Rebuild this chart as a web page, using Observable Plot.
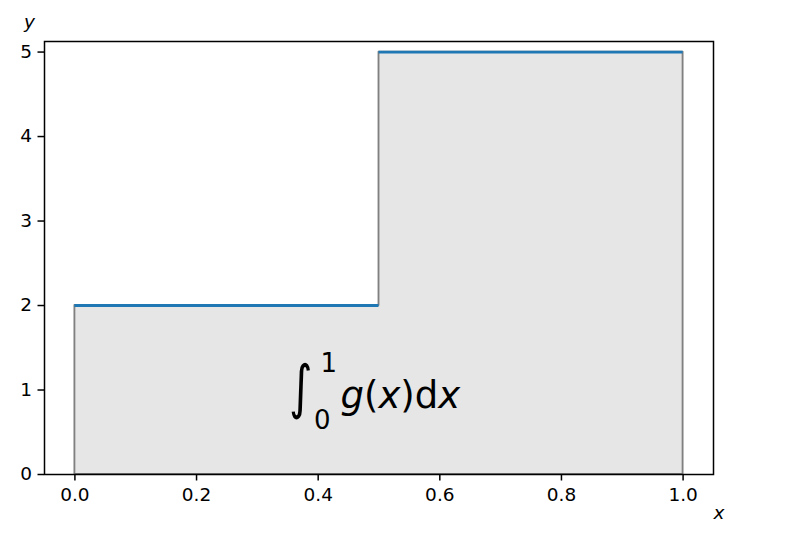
<!DOCTYPE html>
<html><head><meta charset="utf-8">
<script src="https://cdn.jsdelivr.net/npm/d3@7"></script>
<script src="https://cdn.jsdelivr.net/npm/@observablehq/plot@0.6"></script>
<style>body{margin:0;background:#fff;} svg{display:block;}</style>
</head><body><div id="chart"></div>
<script>
// ---- data ----
const xTicks = [0, 0.2, 0.4, 0.6, 0.8, 1.0];
const yTicks = [0, 1, 2, 3, 4, 5];
const stepX = [0, 0.5, 1];          // step function g(x), step-after
const stepY = [2, 5, 5];
const segX1 = [0, 0.5];             // blue horizontal pieces
const segX2 = [0.5, 1];
const segY = [2, 5];
const labelX = [0.5];
const labelY = [1];
const formula = "∫₀¹g(x)dx";
const xLabel = ["x"];
const yLabel = ["y"];

const area = stepX.map((x, i) => ({x, y: stepY[i]}));
const segs = segY.map((y, i) => ({x1: segX1[i], x2: segX2[i], y}));
const lab = labelX.map((x, i) => ({x, y: labelY[i], t: formula}));

const plot = Plot.plot({
  width: 812, height: 536,
  marginLeft: 44, marginRight: 99, marginTop: 41, marginBottom: 62,
  style: {fontFamily: "'DejaVu Sans'", fontSize: "18.5px", color: "#000", background: "#fff"},
  x: {domain: [-0.05, 1.05]},
  y: {domain: [0, 5.125]},
  marks: [
    Plot.areaY(area, {x: "x", y: "y", curve: "step-after", fill: "#e6e6e6", stroke: "#808080", strokeWidth: 1.85}),
    Plot.ruleY(segs, {y: "y", x1: "x1", x2: "x2", stroke: "#1f77b4", strokeWidth: 2.8}),
    Plot.text(lab, {x: "x", y: "y", text: "t", fill: "#000"}),
    Plot.axisX({ticks: xTicks, tickFormat: ".1f", tickSize: 6.5, tickPadding: 6.5, label: null, strokeWidth: 1.5}),
    Plot.axisY({ticks: yTicks, tickFormat: "d", tickSize: 6.5, tickPadding: 6, label: null, strokeWidth: 1.5}),
    Plot.frame({stroke: "#000", strokeWidth: 1.5}),
    Plot.text(yLabel, {frameAnchor: "top-left", dx: -15, dy: -14, fontStyle: "italic", textAnchor: "middle", lineAnchor: "bottom"}),
    Plot.text(xLabel, {frameAnchor: "bottom-right", dx: 0, dy: 44, fontStyle: "italic", textAnchor: "start", lineAnchor: "bottom"})
  ]
});
document.getElementById("chart").appendChild(plot);

// ---- render the formula as math-like text ----
const ns = "http://www.w3.org/2000/svg";
const cx = plot.scale("x").apply(labelX[0]);
const cy = plot.scale("y").apply(labelY[0]);
const t = [...plot.querySelectorAll("text")].find(e => e.textContent === formula);
if (t) {
  ["x", "y", "dy", "dx"].forEach(a => t.removeAttribute(a));
  t.setAttribute("transform", `translate(${cx},${cy})`);
  t.setAttribute("text-anchor", "start");
  t.textContent = "";
  const parts = [
    {s: "0", x: -65, y: 39, size: 26},
    {s: "1", x: -58.5, y: -18, size: 26},
    {s: "g", x: -38.5, y: 18, size: 37, it: true},
    {s: "(", size: 37},
    {s: "x", size: 37, it: true},
    {s: ")", size: 37},
    {s: "d", size: 37},
    {s: "x", size: 37, it: true}
  ];
  for (const p of parts) {
    const ts = document.createElementNS(ns, "tspan");
    if (p.x != null) ts.setAttribute("x", p.x);
    if (p.y != null) ts.setAttribute("y", p.y);
    ts.setAttribute("font-size", p.size);
    ts.setAttribute("font-style", p.it ? "italic" : "normal");
    ts.textContent = p.s;
    t.appendChild(ts);
  }
  // the integral sign, stretched vertically like a display-size glyph
  const ig = document.createElementNS(ns, "text");
  ig.setAttribute("transform", `translate(${cx - 90},${cy + 17}) scale(1,1.3)`);
  ig.setAttribute("text-anchor", "start");
  ig.setAttribute("font-size", 45);
  ig.setAttribute("fill", "#000");
  ig.textContent = "∫";
  t.parentNode.appendChild(ig);
}
</script>
</body></html>
